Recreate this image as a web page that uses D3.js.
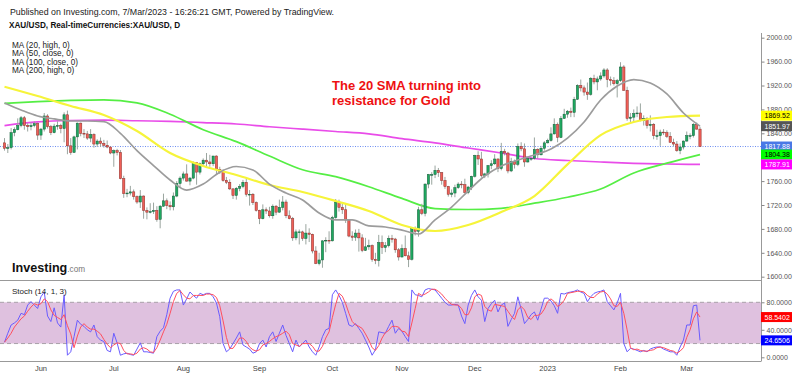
<!DOCTYPE html>
<html>
<head>
<meta charset="utf-8">
<script src="https://cdn.jsdelivr.net/npm/d3@7"></script>
<style>
  body { margin: 0; background: #fff; }
  svg { display: block; font-family: Arial, "Liberation Sans", sans-serif; }
</style>
</head>
<body>
<svg id="chart" width="800" height="376"></svg>
<script>
// XAU/USD daily candles, one row per trading day: [open, high, low, close]
let may22 = [
  [1824,1832,1811,1815],[1815,1822,1807,1816],[1816,1849,1813,1841],[1841,1850,1835,1846],
  [1846,1865,1845,1853],[1853,1869,1850,1866],[1866,1869,1846,1853],[1853,1857,1843,1851],
  [1851,1858,1845,1853],[1853,1860,1850,1856],[1856,1858,1829,1837]
];
let jun22 = [
  [1837,1849,1829,1847],[1847,1874,1843,1869],[1869,1872,1848,1851],[1851,1854,1837,1841],
  [1841,1856,1840,1852],[1852,1860,1846,1853],[1853,1856,1840,1848],[1848,1875,1825,1871],
  [1871,1878,1805,1819],[1819,1832,1804,1808],[1808,1836,1807,1834],[1834,1858,1813,1857],
  [1857,1858,1835,1840],[1840,1847,1832,1839],[1839,1844,1829,1832],[1832,1847,1825,1838],
  [1838,1840,1816,1822],[1822,1830,1817,1827],[1827,1833,1817,1823],[1823,1829,1816,1820],
  [1820,1828,1815,1817],[1817,1818,1805,1807]
];
let jul22 = [
  [1807,1813,1784,1811],[1811,1814,1803,1808],[1808,1812,1763,1764],[1764,1769,1732,1739],
  [1739,1747,1733,1740],[1740,1752,1736,1742],[1742,1746,1729,1734],[1734,1736,1722,1725],
  [1725,1745,1715,1735],[1735,1736,1697,1711],[1711,1716,1696,1708],[1708,1723,1706,1709],
  [1709,1724,1705,1711],[1711,1718,1692,1696],[1696,1720,1681,1718],[1718,1739,1717,1727],
  [1727,1731,1713,1719],[1719,1726,1711,1717],[1717,1741,1711,1735],[1735,1760,1733,1756],
  [1756,1768,1750,1765]
];
let aug22 = [
  [1765,1776,1761,1772],[1772,1788,1759,1760],[1760,1767,1753,1765],[1765,1793,1763,1791],
  [1791,1792,1754,1775],[1775,1791,1771,1789],[1789,1798,1786,1795],[1795,1807,1783,1792],
  [1792,1804,1784,1789],[1789,1802,1785,1802],[1802,1803,1771,1779],[1779,1784,1772,1776],
  [1776,1780,1759,1761],[1761,1767,1755,1758],[1758,1763,1745,1747],[1747,1748,1730,1736],
  [1736,1750,1729,1748],[1748,1755,1743,1751],[1751,1762,1748,1758],[1758,1765,1734,1738],
  [1738,1745,1719,1738],[1738,1740,1720,1724],[1724,1726,1709,1711]
];
let sep22 = [
  [1711,1712,1688,1697],[1697,1721,1696,1712],[1712,1716,1705,1710],[1710,1717,1699,1702],
  [1702,1721,1697,1718],[1718,1720,1703,1708],[1708,1729,1707,1716],[1716,1735,1711,1725],
  [1725,1729,1698,1702],[1702,1711,1696,1697],[1697,1700,1660,1665],[1665,1679,1661,1675],
  [1675,1679,1654,1675],[1675,1677,1660,1664],[1664,1688,1654,1673],[1673,1681,1658,1671],
  [1671,1672,1639,1643],[1643,1651,1621,1622],[1622,1640,1619,1628],[1628,1661,1615,1660],
  [1660,1666,1641,1661],[1661,1676,1655,1660]
];
let oct22 = [
  [1660,1702,1659,1699],[1699,1730,1697,1725],[1725,1729,1709,1716],[1716,1722,1705,1712],
  [1712,1721,1690,1695],[1695,1696,1666,1668],[1668,1676,1660,1666],[1666,1679,1660,1673],
  [1673,1680,1642,1665],[1665,1671,1641,1644],[1644,1665,1643,1650],[1650,1662,1645,1652],
  [1652,1654,1625,1629],[1629,1640,1621,1627],[1627,1670,1617,1657],[1657,1669,1638,1649],
  [1649,1658,1641,1652],[1652,1669,1649,1664],[1664,1670,1657,1663],[1663,1665,1640,1645],
  [1645,1648,1627,1633]
];
let nov22 = [
  [1633,1654,1632,1647],[1647,1669,1634,1635],[1635,1642,1616,1629],[1629,1682,1627,1681],
  [1681,1684,1669,1676],[1676,1717,1667,1712],[1712,1722,1703,1706],[1706,1756,1701,1755],
  [1755,1772,1748,1771],[1771,1775,1754,1771],[1771,1786,1765,1778],[1778,1782,1767,1774],
  [1774,1775,1754,1761],[1761,1767,1747,1751],[1751,1752,1734,1738],[1738,1746,1733,1740],
  [1740,1754,1733,1749],[1749,1758,1747,1755],[1755,1760,1748,1754],[1754,1764,1739,1741],
  [1741,1752,1738,1750],[1750,1769,1745,1768]
];
let dec22 = [
  [1768,1804,1766,1803],[1803,1810,1787,1797],[1797,1809,1766,1769],[1769,1774,1765,1772],
  [1772,1787,1766,1786],[1786,1795,1780,1789],[1789,1805,1787,1797],[1797,1798,1775,1781],
  [1781,1824,1778,1810],[1810,1814,1803,1807],[1807,1809,1773,1777],[1777,1799,1775,1793],
  [1793,1796,1781,1788],[1788,1823,1785,1818],[1818,1825,1810,1814],[1814,1823,1784,1792],
  [1792,1800,1791,1798],[1798,1799,1794,1798],[1798,1833,1796,1813],[1813,1815,1798,1804],
  [1804,1819,1803,1815],[1815,1827,1811,1824]
];
let jan23 = [
  [1824,1831,1823,1828],[1828,1850,1826,1839],[1839,1865,1838,1855],[1855,1858,1825,1833],
  [1833,1869,1832,1865],[1865,1881,1864,1872],[1872,1879,1866,1877],[1877,1883,1867,1875],
  [1875,1901,1867,1897],[1897,1922,1896,1920],[1920,1930,1910,1916],[1916,1920,1903,1909],
  [1909,1925,1896,1905],[1905,1934,1903,1932],[1932,1938,1922,1926],[1926,1935,1912,1931],
  [1931,1942,1928,1936],[1936,1949,1933,1946],[1946,1949,1917,1930],[1930,1935,1920,1928],
  [1928,1934,1920,1923],[1923,1931,1900,1928]
];
let feb23 = [
  [1928,1959,1926,1951],[1951,1954,1911,1912],[1912,1918,1861,1865],[1865,1874,1859,1867],
  [1867,1880,1860,1873],[1873,1885,1867,1874],[1874,1890,1860,1861],[1861,1870,1853,1865],
  [1865,1867,1848,1853],[1853,1870,1843,1855],[1855,1857,1830,1836],[1836,1846,1829,1836],
  [1836,1846,1819,1842],[1842,1847,1837,1841],[1841,1845,1832,1835],[1835,1842,1824,1825],
  [1825,1831,1818,1822],[1822,1827,1809,1811],[1811,1823,1805,1817],[1817,1828,1813,1827]
];
let mar23 = [
  [1827,1843,1826,1836],[1836,1840,1830,1836],[1836,1857,1833,1855],[1855,1858,1846,1847],
  [1847,1851,1817,1817.88]
];

// Moving averages (MA20 every 5 bars, the others every 10 bars)
let ma20High = [1890.7,1879,1869,1864,1860.6,1860.6,1859.7,1840,1811,1786,1761.8,1745,1755,1775,
  1784.4,1778.6,1755,1740,1728.4,1706.6,1695,1695,1685,1683.2,1678,1671.5,1695,1716.6,1743.4,
  1768.5,1785.3,1795.3,1803.7,1813.7,1832,1859,1895.7,1919.2,1930,1924.2,1905.8,1874,1851.97];
let ma50Close = [1918,1902.4,1885.7,1870.6,1843.8,1807,1785.3,1770.2,1753.5,1741.8,1726.7,1710,
  1686.6,1676.5,1686.6,1708.3,1735,1788,1837,1859,1867.3,1869.52];
let ma100Close = [1890,1893,1895,1896,1891,1872,1846,1826,1802,1779,1767.4,1750.6,1731,1714,
  1712.5,1714.5,1723,1733,1746.8,1773.6,1790,1804.38];
let ma200High = [1853,1859,1861.4,1862,1861,1860,1858,1855.6,1851,1847,1843,1839,1831,1824,
  1815.4,1807,1797.8,1794.5,1792,1789.8,1788.6,1787.91];

// Stochastic (14, 1, 3): %K (blue) and %D (red), one value per bar
let stochK = [
  22,35,47,50,54,64,62,76,81,76,71,
  88,95,60,52,72,50,44,91,3,8,30,54,48,45,40,37,47,30,25,23,10,8,
  35,21,3,5,6,4,3,12,21,8,8,7,6,30,38,43,62,86,96,98,98,
  76,85,95,90,86,93,91,93,93,88,79,59,20,8,12,20,28,37,18,15,12,6,8,
  20,25,15,30,37,23,35,47,32,20,8,25,15,20,25,15,8,3,15,30,40,42,
  91,98,90,80,64,47,45,49,42,35,25,15,3,11,37,36,35,45,54,35,42,
  38,30,23,98,91,90,88,98,100,99,98,92,86,80,76,76,77,76,60,49,76,90,
  98,88,83,52,71,78,83,66,76,79,45,55,64,88,70,49,55,62,66,54,70,86,
  86,82,75,64,93,92,94,95,96,98,95,93,81,88,93,95,96,98,81,75,69,79,
  93,20,8,13,12,10,8,10,8,12,14,15,15,12,10,8,8,3,15,25,
  47,47,75,76,24.6506
];
let stochD = [
  22,28,35,44,50,56,60,67,73,78,76,
  78,85,81,69,61,58,55,62,46,34,14,31,44,49,44,41,41,38,34,26,19,14,
  18,21,20,10,5,5,4,6,12,14,12,8,7,14,25,37,48,64,81,93,97,
  91,86,85,90,90,90,90,92,92,91,87,75,53,29,13,13,20,28,28,23,15,11,9,
  11,18,20,23,27,30,32,35,38,33,20,18,16,20,20,20,16,9,9,16,28,37,
  58,77,93,89,78,64,52,47,45,42,34,25,14,10,17,28,36,39,45,45,44,
  38,37,30,50,71,93,90,92,95,99,99,96,92,86,81,77,76,76,71,62,62,72,
  88,92,90,74,69,67,77,76,75,74,67,60,55,69,74,69,58,55,61,61,63,70,
  81,85,81,74,77,83,93,94,95,96,96,95,90,87,87,92,95,96,92,85,75,74,
  80,64,40,14,11,12,10,9,9,10,11,14,15,14,12,10,9,6,9,14,
  29,40,56,66,58.5402
];

// 1800.00 sits behind the value tags in the reference, so it is not listed
let priceTicks = [1600, 1640, 1680, 1720, 1760, 1840, 1880, 1920, 1960, 2000];
let stochTicks = [0, 40, 80];
let maLegend = ["MA (20, high, 0)", "MA (50, close, 0)", "MA (100, close, 0)", "MA (200, high, 0)"];
let noteLines = ["The 20 SMA turning into", "resistance for Gold"];

let candles = [].concat(may22, jun22, jul22, aug22, sep22, oct22, nov22, dec22, jan23, feb23, mar23);
let n = candles.length;

// Trading days (weekdays) starting 17 May 2022
let days = [];
for (let d = new Date(2022, 4, 17); days.length < n; d.setDate(d.getDate() + 1)) {
    if (d.getDay() !== 0 && d.getDay() !== 6) days.push(new Date(d));
}
let monthTicks = [];
days.forEach((d, i) => {
    if (i > 0 && d.getMonth() !== days[i - 1].getMonth()) {
        monthTicks.push({i: i, label: d.getMonth() === 0 ? String(d.getFullYear()) : d3.timeFormat("%b")(d)});
    }
});

let axisX = 761;
let x = d3.scaleLinear().domain([0, n - 1]).range([4.5, 700]);
let y = d3.scaleLinear().domain([1600, 2000]).range([276.7, 37.7]);
let ys = d3.scaleLinear().domain([0, 100]).range([357.3, 288.55]);

let svg = d3.select("#chart");
svg.append("rect").attr("width", 800).attr("height", 376).attr("fill", "#fff");

// Header
svg.append("text").attr("x", 10).attr("y", 15).attr("font-size", 8.8).attr("fill", "#222")
    .text("Published on Investing.com, 7/Mar/2023 - 16:26:21 GMT, Powered by TradingView.");
svg.append("text").attr("x", 9).attr("y", 28).attr("font-size", 8.2).attr("font-weight", "bold").attr("fill", "#111")
    .text("XAU/USD, Real-timeCurrencies:XAU/USD, D");
svg.append("g").selectAll("text")
    .data(maLegend)
    .join("text")
    .attr("x", 12)
    .attr("y", (d, i) => 47.5 + i * 8.5)
    .attr("font-size", 8.2)
    .attr("fill", "#222")
    .text(d => d);

// Stochastic panel background
let stoch = svg.append("g");
stoch.append("rect")
    .attr("x", 0).attr("width", axisX)
    .attr("y", ys(80)).attr("height", ys(20) - ys(80))
    .attr("fill", "#dfc1df");
stoch.selectAll("line.band")
    .data([80, 20])
    .join("line")
    .classed("band", true)
    .attr("x1", 0).attr("x2", axisX)
    .attr("y1", d => ys(d)).attr("y2", d => ys(d))
    .attr("stroke", "#a8a0a8").attr("stroke-dasharray", "4,3");

// Panel separators
svg.selectAll("line.sep")
    .data([280.5, 361.5])
    .join("line")
    .classed("sep", true)
    .attr("x1", 0).attr("x2", axisX)
    .attr("y1", d => d).attr("y2", d => d)
    .attr("stroke", "#999");

// Last price dotted line
let lastClose = candles[n - 1][3];
svg.append("line")
    .attr("x1", 0).attr("x2", axisX)
    .attr("y1", y(lastClose)).attr("y2", y(lastClose))
    .attr("stroke", "#6c8ef0").attr("stroke-dasharray", "1,1.5");

// Moving averages
function maLine(values, step, color, width) {
    let line = d3.line()
        .x((d, i) => x(Math.min(i * step, n - 1)))
        .y(d => y(d))
        .curve(d3.curveMonotoneX);
    svg.append("path")
        .attr("d", line(values))
        .attr("fill", "none")
        .attr("stroke", color)
        .attr("stroke-width", width);
}
maLine(ma200High, 10, "#e94ce9", 1.7);
maLine(ma100Close, 10, "#55ee44", 1.7);

// Candles
let candleG = svg.append("g");
candleG.selectAll("line")
    .data(candles)
    .join("line")
    .attr("x1", (d, i) => x(i)).attr("x2", (d, i) => x(i))
    .attr("y1", d => y(d[1])).attr("y2", d => y(d[2]))
    .attr("stroke", "#9aa59f").attr("stroke-width", 1);
candleG.selectAll("rect")
    .data(candles)
    .join("rect")
    .attr("x", (d, i) => x(i) - 1.15)
    .attr("width", 2.3)
    .attr("y", d => y(Math.max(d[0], d[3])))
    .attr("height", d => Math.max(Math.abs(y(d[0]) - y(d[3])), 0.8))
    .attr("fill", d => d[3] >= d[0] ? "#1fa860" : "#ef5f57")
    .attr("stroke", d => d[3] >= d[0] ? "#145c38" : "#8a2e2a")
    .attr("stroke-width", 0.5);

maLine(ma50Close, 10, "#f6f43a", 2.2);
maLine(ma20High, 5, "#9c9c9c", 1.7);

// Note
svg.append("g").selectAll("text")
    .data(noteLines)
    .join("text")
    .attr("x", 332)
    .attr("y", (d, i) => 89.5 + i * 15)
    .attr("font-size", 13)
    .attr("font-weight", "bold")
    .attr("fill", "#ee1111")
    .text(d => d);

// Investing.com logo
let logo = svg.append("text").attr("x", 12).attr("y", 272);
logo.append("tspan").attr("font-size", 12.6).attr("font-weight", "bold").attr("fill", "#111").text("Investing");
logo.append("tspan").attr("font-size", 8.2).attr("fill", "#777").text(".com");

// Stochastic lines
let kLine = d3.line().x((d, i) => x(i)).y(d => ys(d));
stoch.append("path").attr("d", kLine(stochK))
    .attr("fill", "none").attr("stroke", "#6a5cff").attr("stroke-width", 1);
stoch.append("path").attr("d", kLine(stochD))
    .attr("fill", "none").attr("stroke", "#ff4f5f").attr("stroke-width", 1);
stoch.append("text").attr("x", 12).attr("y", 293.5).attr("font-size", 8).attr("fill", "#222")
    .text("Stoch (14, 1, 3)");

// Right axis
svg.append("line")
    .attr("x1", axisX + 0.5).attr("x2", axisX + 0.5)
    .attr("y1", 33).attr("y2", 361.5)
    .attr("stroke", "#999");

let priceAxis = svg.append("g")
    .attr("transform", `translate(${axisX + 0.5},0)`)
    .call(d3.axisRight(y).tickValues(priceTicks).tickSize(3).tickPadding(2).tickFormat(d3.format(".2f")));
let stochAxis = svg.append("g")
    .attr("transform", `translate(${axisX + 0.5},0)`)
    .call(d3.axisRight(ys).tickValues(stochTicks).tickSize(3).tickPadding(2).tickFormat(d3.format(".4f")));
[priceAxis, stochAxis].forEach(g => {
    g.select(".domain").remove();
    g.selectAll(".tick line").attr("stroke", "#888");
    g.selectAll(".tick text").attr("font-size", 7).attr("fill", "#555").attr("font-family", "Arial, 'Liberation Sans', sans-serif");
});

// Month labels
svg.append("g").selectAll("text")
    .data(monthTicks)
    .join("text")
    .attr("x", d => x(d.i))
    .attr("y", 371)
    .attr("text-anchor", "middle")
    .attr("font-size", 7.5)
    .attr("fill", "#444")
    .text(d => d.label);

// Last value tags on the axis
let tags = [
    {v: ma50Close[ma50Close.length - 1], scale: y, fmt: ".2f", bg: "#ffff00", fg: "#000"},
    {v: ma20High[ma20High.length - 1], scale: y, fmt: ".2f", bg: "#555555", fg: "#fff"},
    {v: lastClose, scale: y, fmt: ".2f", bg: "#4a78e6", fg: "#fff"},
    {v: ma100Close[ma100Close.length - 1], scale: y, fmt: ".2f", bg: "#00ff00", fg: "#000"},
    {v: ma200High[ma200High.length - 1], scale: y, fmt: ".2f", bg: "#ff00ff", fg: "#fff"},
    {v: stochD[n - 1], scale: ys, fmt: ".4f", bg: "#ff0000", fg: "#fff"},
    {v: stochK[n - 1], scale: ys, fmt: ".4f", bg: "#0000ff", fg: "#fff"}
];
let tagG = svg.append("g").selectAll("g")
    .data(tags)
    .join("g")
    .attr("transform", d => `translate(${axisX},${d.scale(d.v)})`);
tagG.append("rect")
    .attr("x", 0).attr("y", -5).attr("width", 31).attr("height", 10)
    .attr("fill", d => d.bg);
tagG.append("text")
    .attr("x", 3.5).attr("y", 2.6)
    .attr("font-size", 7)
    .attr("fill", d => d.fg)
    .text(d => d3.format(d.fmt)(d.v));
</script>
</body>
</html>
